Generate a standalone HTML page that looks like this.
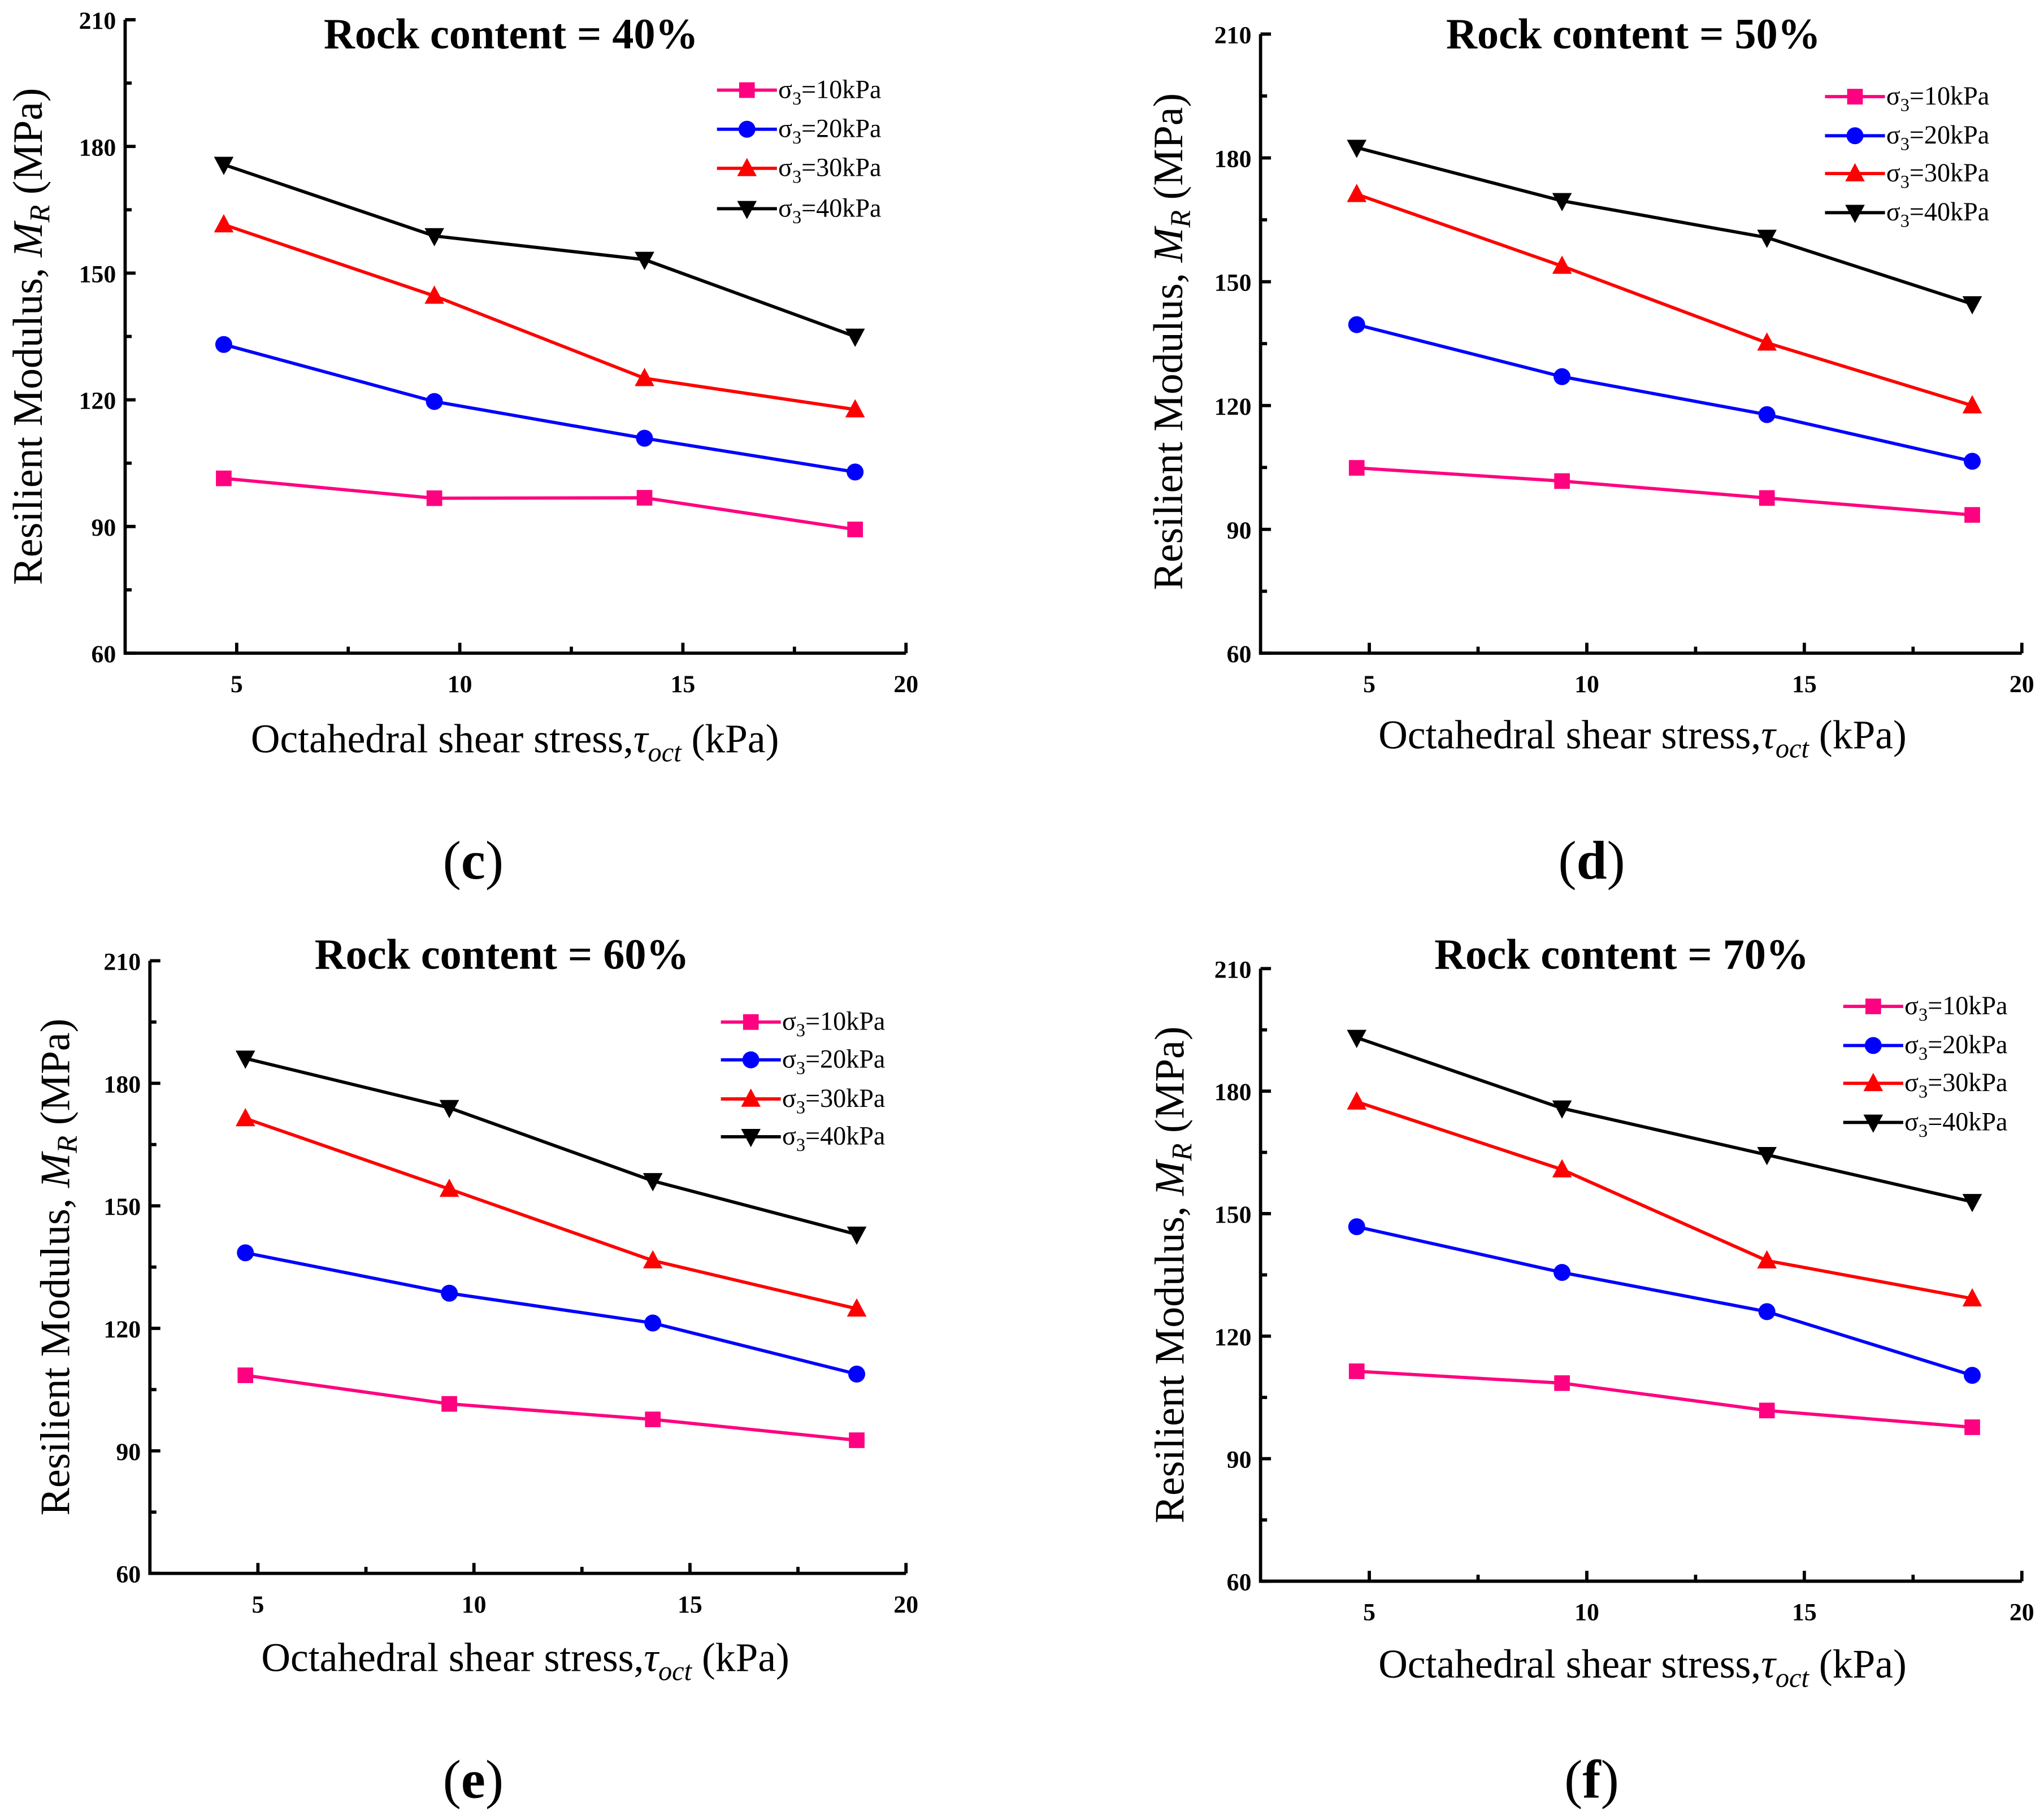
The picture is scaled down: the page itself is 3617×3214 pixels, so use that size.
<!DOCTYPE html>
<html><head><meta charset="utf-8"><style>
html,body{margin:0;padding:0;background:#fff}
svg{display:block}
text{font-family:"Liberation Serif",serif}
</style></head>
<body>
<svg id="fig" xmlns="http://www.w3.org/2000/svg" width="3617" height="3214" viewBox="0 0 1568 1393"></svg>
<script>
const xValues = [4.71, 9.43, 14.14, 18.86];
const seriesNames = ["σ3=10kPa","σ3=20kPa","σ3=30kPa","σ3=40kPa"];
const xTicks = [5, 10, 15, 20];
const yTicks = [60, 90, 120, 150, 180, 210];
const c10 = [101.4, 96.7, 96.8, 89.3];
const c20 = [133.1, 119.6, 110.9, 102.9];
const c30 = [161.5, 144.6, 125.1, 117.7];
const c40 = [175.7, 158.8, 153.2, 135.0];
const d10 = [104.9, 101.7, 97.6, 93.5];
const d20 = [139.6, 127.0, 117.8, 106.5];
const d30 = [171.2, 153.8, 135.2, 120.0];
const d40 = [182.5, 169.6, 160.7, 144.6];
const e10 = [108.5, 101.5, 97.7, 92.6];
const e20 = [138.5, 128.6, 121.3, 108.8];
const e30 = [171.4, 154.1, 136.6, 124.8];
const e40 = [186.1, 174.0, 156.1, 143.0];
const f10 = [111.4, 108.5, 101.8, 97.7];
const f20 = [146.8, 135.6, 126.0, 110.4];
const f30 = [177.4, 160.8, 138.5, 129.2];
const f40 = [193.1, 175.8, 164.4, 152.9];

const NS = "http://www.w3.org/2000/svg";
const svg = document.getElementById('fig');
const colors = ["#ff0080","#0000ff","#ff0000","#000000"];
const markers = ["square","circle","triangle","invtriangle"];
function el(tag, attrs, parent){
  const e = document.createElementNS(NS, tag);
  for (const k in attrs) e.setAttribute(k, attrs[k]);
  (parent||svg).appendChild(e);
  return e;
}
function marker(g, type, x, y, col, name){
  let m;
  if (type==="square") m = el('rect',{x:x-6,y:y-6,width:12,height:12,fill:col},g);
  else if (type==="circle") m = el('circle',{cx:x,cy:y,r:6.5,fill:col},g);
  else if (type==="triangle") m = el('polygon',{points:`${x},${y-8} ${x-7.5},${y+6} ${x+7.5},${y+6}`,fill:col},g);
  else m = el('polygon',{points:`${x},${y+8} ${x-7.5},${y-6} ${x+7.5},${y-6}`,fill:col},g);
  
  
}
const panels = [
  {id:'c', title:'Rock content = 40%', L:96, R:695, T:15, B:501, data:[c10,c20,c30,c40], tx:392, ty:37, lgx:550, lgy:[69,99,129,160], ylx:22, yly:258, xlx:395, xly:577, plx:363, ply:674},
  {id:'d', title:'Rock content = 50%', L:967, R:1551, T:26, B:501, data:[d10,d20,d30,d40], tx:1253, ty:37, lgx:1400, lgy:[74,104,133,163], ylx:897, yly:262, xlx:1260, xly:574, plx:1221, ply:674},
  {id:'e', title:'Rock content = 60%', L:115, R:695, T:737, B:1207, data:[e10,e20,e30,e40], tx:385, ty:743, lgx:553, lgy:[784,813,843,872], ylx:43, yly:972, xlx:403, xly:1282, plx:363, ply:1379},
  {id:'f', title:'Rock content = 70%', L:967, R:1551, T:743, B:1213, data:[f10,f20,f30,f40], tx:1244, ty:743, lgx:1414, lgy:[772,802,831,861], ylx:898, yly:978, xlx:1260, xly:1287, plx:1221, ply:1379}
];
panels.forEach(p=>{
  const g = el('g',{});
  
  
  const xs = v => p.L + (v-2.5)/(20-2.5)*(p.R-p.L);
  const ys = v => p.B - (v-60)/(210-60)*(p.B-p.T);
  const ax = el('path',{d:`M${p.L},${p.T} V${p.B} H${p.R}`,stroke:'#000','stroke-width':2.5,fill:'none'},g);
  
  
  yTicks.forEach((v,i)=>{
    const y = ys(v);
    el('line',{x1:p.L,x2:p.L+8,y1:y,y2:y,stroke:'#000','stroke-width':2.5},g);
    if(i<yTicks.length-1){ const ym = ys(v+15); el('line',{x1:p.L,x2:p.L+5,y1:ym,y2:ym,stroke:'#000','stroke-width':2.5},g); }
    const t = el('text',{x:p.L-7,y:y+7,'text-anchor':'end','font-size':19,'font-weight':'bold'},g);
    t.textContent = v;
    
    
  });
  xTicks.forEach((v,i)=>{
    const x = xs(v);
    el('line',{x1:x,x2:x,y1:p.B,y2:p.B-8,stroke:'#000','stroke-width':2.5},g);
    const xm = xs(v-2.5); if (v-2.5>2.5) el('line',{x1:xm,x2:xm,y1:p.B,y2:p.B-5,stroke:'#000','stroke-width':2.5},g);
    const t = el('text',{x:x,y:p.B+30,'text-anchor':'middle','font-size':19,'font-weight':'bold'},g);
    t.textContent = v;
    
    
  });
  const tt = el('text',{x:p.tx,y:p.ty,'text-anchor':'middle','font-size':33,'font-weight':'bold'},g);
  tt.textContent = p.title;
  
  
  p.data.forEach((arr,si)=>{
    const sg = el('g',{},g);
    
    
    const pts = arr.map((v,i)=>xs(xValues[i])+','+ys(v)).join(' ');
    el('polyline',{points:pts,fill:'none',stroke:colors[si],'stroke-width':2.5},sg);
    arr.forEach((v,i)=>marker(sg, markers[si], xs(xValues[i]), ys(v), colors[si], 'point'));
    const lg = el('g',{},g);
    
    
    const ly = p.lgy[si];
    el('line',{x1:p.lgx,x2:p.lgx+46,y1:ly,y2:ly,stroke:colors[si],'stroke-width':2.5},lg);
    marker(lg, markers[si], p.lgx+23, ly, colors[si], 'legend-marker');
    const lt = el('text',{x:p.lgx+47,y:ly+6,'font-size':20},lg);
    lt.innerHTML = 'σ<tspan font-size="14" dy="5">3</tspan><tspan dy="-5">='+((si+1)*10)+'kPa</tspan>';
  });
  const yl = el('text',{x:0,y:0,'text-anchor':'middle','font-size':32,transform:`translate(${p.ylx+10},${p.yly}) rotate(-90)`},g);
  yl.innerHTML = 'Resilient Modulus, <tspan font-style="italic">M</tspan><tspan font-style="italic" font-size="22" dy="6">R</tspan><tspan dy="-6"> (MPa)</tspan>';
  
  
  const xl = el('text',{x:p.xlx,y:p.xly,'text-anchor':'middle','font-size':31},g);
  xl.innerHTML = 'Octahedral shear stress,<tspan font-style="italic">τ</tspan><tspan font-style="italic" font-size="21" dy="7">oct</tspan><tspan dy="-7"> (kPa)</tspan>';
  
  
  const pl = el('text',{x:p.plx,y:p.ply,'text-anchor':'middle','font-size':42},g);
  pl.innerHTML = '(<tspan font-weight="bold">'+p.id+'</tspan>)';
  
  
});
</script>
</body></html>
